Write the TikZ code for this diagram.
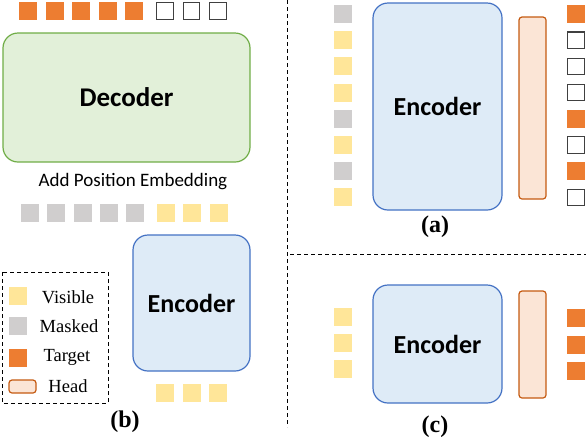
\documentclass[tikz,border=0pt]{standalone}
\usepackage{fontspec}
\setmainfont{Liberation Serif}
\newfontfamily\carlito{Carlito}
\usetikzlibrary{positioning}
\definecolor{tgtorange}{RGB}{237,125,49}
\definecolor{visyellow}{RGB}{255,230,153}
\definecolor{mskgray}{RGB}{208,206,206}
\definecolor{decfill}{RGB}{226,240,217}
\definecolor{decline}{RGB}{112,173,71}
\definecolor{encfill}{RGB}{222,235,247}
\definecolor{encline}{RGB}{68,114,196}
\definecolor{headfill}{RGB}{251,229,214}
\definecolor{headline}{RGB}{197,90,17}

\begin{document}
\begin{tikzpicture}[x=1pt,y=-1pt,
    tok/.style={rectangle,minimum size=18pt,inner sep=0pt},
    vis/.style={tok,fill=visyellow},
    msk/.style={tok,fill=mskgray},
    tgt/.style={tok,fill=tgtorange},
    emp/.style={tok,minimum size=16.5pt,draw=black!75,line width=1.2pt,fill=white},
    enc/.style={rectangle,rounded corners=15pt,draw=encline,fill=encfill,line width=1.2pt,
      font=\carlito\bfseries\fontsize{26}{30}\selectfont},
    head/.style={rectangle,rounded corners=3pt,draw=headline,fill=headfill,line width=1.2pt,minimum width=27pt},
    lbl/.style={font=\bfseries\fontsize{24}{28}\selectfont},
    leg/.style={font=\fontsize{18.5}{21}\selectfont}]
  \useasboundingbox (0,0) rectangle (586,440);
  \draw[dashed,line width=0.9pt,dash pattern=on 4pt off 3pt] (287,0)--(287,427);
  \draw[dashed,line width=0.9pt,dash pattern=on 4pt off 3pt] (290,254)--(586,254);
  % (b)
  \foreach \i in {0,...,4} {
    \node[tgt] (bt\i) at (28+26.5*\i,11) {};
    \node[msk] (bm\i) at (30+26.3*\i,213) {};
  }
  \foreach \j in {0,1,2} {
    \node[emp] (be\j) at (165+26.5*\j,11) {};
    \node[vis] (bv\j) at (166+26.3*\j,213) {};
    \node[vis] (bin\j) at (165+26.5*\j,393) {};
  }
  \node[rectangle,rounded corners=15pt,draw=decline,fill=decfill,line width=1.2pt,
    minimum width=247pt,minimum height=129pt,font=\carlito\bfseries\fontsize{27}{31}\selectfont]
    (dec) at (126.5,97.5) {Decoder};
  \node[font=\carlito\fontsize{19}{23}\selectfont] (ape) at (133,182) {Add Position Embedding};
  \node[enc,minimum width=117pt,minimum height=136pt] (encb) at (191.5,303) {Encoder};
  \draw[dashed,line width=0.9pt,dash pattern=on 4pt off 3pt] (2,272) rectangle (108,403);
  \node[vis] (lv) at (18,296) {};
  \node[msk] (lm) at (18,326) {};
  \node[tgt] (lt) at (18,357.5) {};
  \node[head,minimum width=27pt,minimum height=13pt] (lh) at (22.5,386.5) {};
  \node[leg] at (68,297) {Visible};
  \node[leg] at (69,326) {Masked};
  \node[leg] at (67,357) {Target};
  \node[leg] at (68,386) {Head};
  \node[lbl] (capb) at (125,422) {(b)};
  % (a)
  \node[enc,minimum width=129pt,minimum height=207pt] (enca) at (437.5,106.5) {Encoder};
  \node[head,minimum height=182pt] (heada) at (532.5,108) {};
  \foreach \c [count=\k from 0] in {msk,vis,vis,vis,msk,vis,msk,vis}
    \node[\c] (ain\k) at (342.5,14+26.2*\k) {};
  \foreach \c [count=\k from 0] in {tgt,emp,emp,emp,tgt,emp,tgt,emp}
    \node[\c] (aout\k) at (576,14+26.2*\k) {};
  \node[lbl] (capa) at (435,227) {(a)};
  % (c)
  \node[enc,minimum width=129pt,minimum height=118pt] (encc) at (437.5,344) {Encoder};
  \node[head,minimum height=107pt] (headc) at (532.5,344.5) {};
  \foreach \k in {0,1,2} {
    \node[vis] (cin\k) at (342.5,317+26*\k) {};
    \node[tgt] (cout\k) at (576,318+26.5*\k) {};
  }
  \node[lbl] (capc) at (435,427) {(c)};
\end{tikzpicture}
\end{document}
